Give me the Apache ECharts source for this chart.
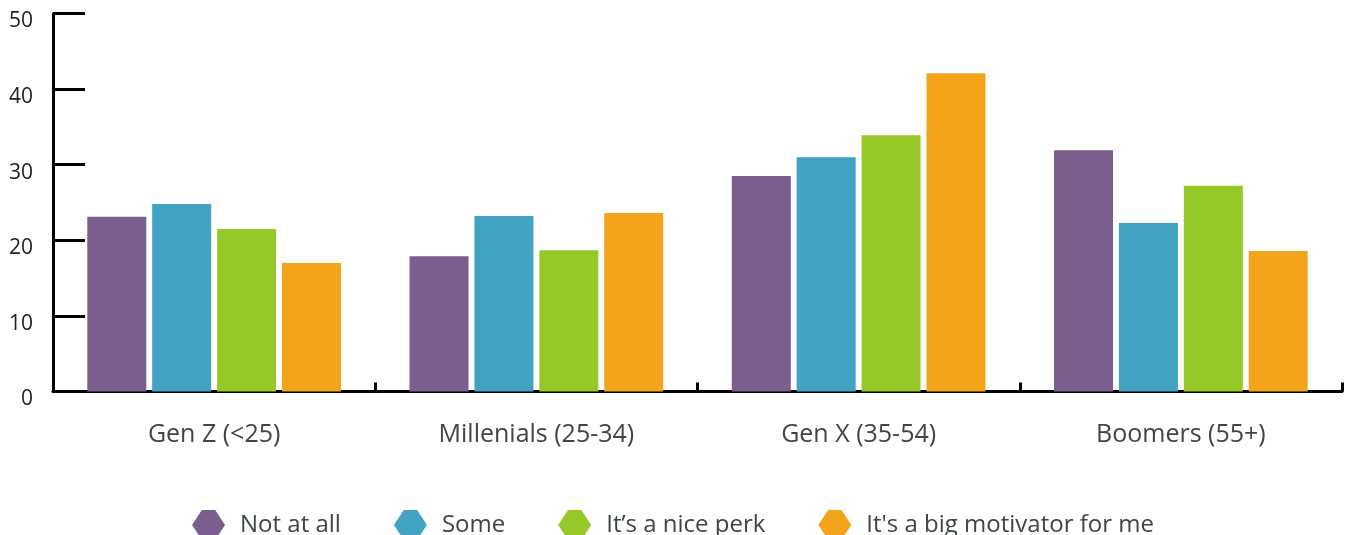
<!DOCTYPE html>
<html>
<head>
<meta charset="utf-8">
<script src="https://cdn.jsdelivr.net/npm/echarts@6/dist/echarts.min.js"></script>
<style>
  html, body { margin: 0; padding: 0; background: #ffffff; }
  #chart { width: 1346px; height: 535px; }
</style>
</head>
<body>
<div id="chart"></div>
<script>
// Generations on the x axis
const categories = ['Gen Z (<25)', 'Millenials (25-34)', 'Gen X (35-54)', 'Boomers (55+)'];

// Response shares per generation
const notAtAll = [23.1, 17.9, 28.5, 31.9];
const some = [24.8, 23.2, 31.0, 22.3];
const nicePerk = [21.5, 18.7, 33.9, 27.2];
const bigMotivator = [17.0, 23.6, 42.1, 18.6];

const seriesNames = ['Not at all', 'Some', 'It\u2019s a nice perk', "It's a big motivator for me"];
const seriesColors = ['#7b5e8e', '#40a3c2', '#96c828', '#f4a41a'];
const seriesValues = [notAtAll, some, nicePerk, bigMotivator];

// flat-topped hexagon used as the legend marker
const hexagon = 'path://M0,14.5 L9.5,0 L22.5,0 L32,14.5 L22.5,29 L9.5,29 Z';
const fontFamily = '"Open Sans", Lato, sans-serif';

const chart = echarts.init(document.getElementById('chart'));

chart.setOption({
  animation: false,
  textStyle: { fontFamily: fontFamily },
  grid: { left: 53, right: 4, top: 13.5, bottom: 143.5, containLabel: false },
  legend: {
    left: 'center',
    top: 505,
    itemWidth: 33,
    itemHeight: 30,
    itemGap: 53,
    icon: hexagon,
    textStyle: { fontSize: 24, color: '#3d4548', fontFamily: fontFamily, padding: [0, 0, 0, 10] },
    data: seriesNames
  },
  xAxis: {
    type: 'category',
    data: categories,
    axisLine: { lineStyle: { color: '#000', width: 3 } },
    axisTick: { show: true, inside: true, length: 9, lineStyle: { color: '#000', width: 3 } },
    axisLabel: { fontSize: 25, color: '#3f4548', margin: 31 },
    splitLine: { show: false }
  },
  yAxis: {
    type: 'value',
    min: 0,
    max: 50,
    interval: 10,
    axisLine: { show: true, lineStyle: { color: '#000', width: 3 } },
    axisTick: { show: true, inside: true, length: 32, lineStyle: { color: '#000', width: 3 } },
    axisLabel: { fontSize: 21, color: '#222', margin: 20, verticalAlign: 'top', lineHeight: 16 },
    splitLine: { show: false }
  },
  series: seriesValues.map(function (vals, i) {
    return {
      name: seriesNames[i],
      type: 'bar',
      data: vals,
      barWidth: 59,
      barGap: '10%',
      itemStyle: { color: seriesColors[i] }
    };
  })
});
</script>
</body>
</html>
